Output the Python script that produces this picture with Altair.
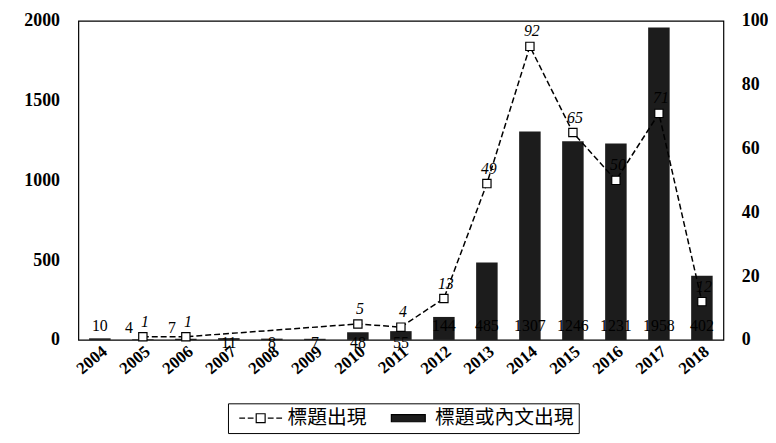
import altair as alt
import pandas as pd

years = [str(y) for y in range(2004, 2019)]
body_counts = [10, 4, 7, 11, 8, 7, 48, 55, 144, 485, 1307, 1246, 1231, 1958, 402]
title_counts = [None, 1, 1, None, None, None, 5, 4, 13, 49, 92, 65, 50, 71, 12]
series_names = ["標題出現", "標題或內文出現"]
left_ticks = [0, 500, 1000, 1500, 2000]
right_ticks = [0, 20, 40, 60, 80, 100]
below_axis_years = ["2007", "2008", "2009", "2010", "2011"]
shifted_label_years = ["2005", "2006"]

df = pd.DataFrame({"year": years, "body": body_counts, "title": title_counts})
df["below"] = df["year"].isin(below_axis_years)
df["shifted"] = df["year"].isin(shifted_label_years)
legend_df = pd.DataFrame({"series": series_names})

SERIF = "Liberation Serif"
CJK = "Noto Sans CJK TC"
BAR = "#1c1c1c"

x_enc = alt.X(
    "year:N",
    sort=years,
    scale=alt.Scale(paddingInner=0.5, paddingOuter=0.25),
    axis=alt.Axis(
        title=None, labelAngle=-40, labelAlign="right", labelBaseline="top",
        labelFont=SERIF, labelFontSize=17, labelFontWeight="bold",
        labelColor="black", ticks=False, domain=False, labelPadding=3,
    ),
)

left_scale = alt.Scale(domain=[0, 2000])
right_scale = alt.Scale(domain=[0, 100])

bars = alt.Chart(df).mark_bar(color=BAR).encode(
    x=x_enc,
    y=alt.Y("body:Q", scale=left_scale, axis=alt.Axis(
        title=None, values=left_ticks, format="d", ticks=False, domain=False, grid=False,
        labelFont=SERIF, labelFontSize=18, labelFontWeight="bold",
        labelColor="black", labelPadding=19)),
)

bar_labels_up = alt.Chart(df).transform_filter("!datum.below && !datum.shifted").mark_text(
    font=SERIF, fontSize=16, color="black", dy=-14
).encode(x=x_enc, y=alt.datum(0, scale=left_scale), text="body:Q")

bar_labels_shift = alt.Chart(df).transform_filter("datum.shifted").mark_text(
    font=SERIF, fontSize=16, color="black", dy=-12, dx=-14
).encode(x=x_enc, y=alt.datum(0, scale=left_scale), text="body:Q")

bar_labels_down = alt.Chart(df).transform_filter("datum.below").mark_text(
    font=SERIF, fontSize=16, color="black", dy=3
).encode(x=x_enc, y=alt.datum(0, scale=left_scale), text="body:Q")

legend_props = dict(
    title=None, orient="none", direction="horizontal",
    legendX=151, legendY=386, strokeColor="black", padding=5,
    labelFont=CJK, labelFontSize=20, labelColor="black",
    symbolSize=81, symbolOffset=18, labelOffset=17, columnPadding=14,
    symbolStrokeColor="black", symbolStrokeWidth=1.2,
)

legend_layer = alt.Chart(legend_df).transform_filter("false").mark_point(
    strokeWidth=1.2, opacity=1
).encode(
    shape=alt.Shape("series:N", scale=alt.Scale(
        domain=series_names,
        range=["M-4.8,0H-3.5M-2.9,0H-1.6M-1,-1H1V1H-1ZM1.6,0H2.9M3.5,0H4.8",
               "M-3.8,-0.8H3.8V0.8H-3.8Z"]), legend=alt.Legend(**legend_props)),
    fill=alt.Fill("series:N", scale=alt.Scale(domain=series_names, range=["white", BAR]),
                  legend=alt.Legend(**legend_props)),
    stroke=alt.Stroke("series:N", scale=alt.Scale(domain=series_names, range=["black", "black"]),
                      legend=alt.Legend(**legend_props)),
)

left_group = alt.layer(bars, bar_labels_up, bar_labels_shift, bar_labels_down, legend_layer)

line_base = alt.Chart(df).transform_filter("isValid(datum.title)")
line = line_base.mark_line(color="black", strokeDash=[6, 3], strokeWidth=1.5).encode(
    x=x_enc,
    y=alt.Y("title:Q", scale=right_scale, axis=alt.Axis(
        title=None, values=right_ticks, ticks=False, domain=False, grid=False,
        orient="right", labelFont=SERIF, labelFontSize=18, labelFontWeight="bold",
        labelColor="black", labelPadding=18)),
)
points = line_base.mark_point(shape="square", filled=True, fill="white", stroke="black",
                              strokeWidth=1.2, size=70, opacity=1).encode(
    x=x_enc, y=alt.Y("title:Q", scale=right_scale))
line_labels = line_base.mark_text(font=SERIF, fontSize=16, fontStyle="italic",
                                  color="black", dy=-15, dx=2).encode(
    x=x_enc, y=alt.Y("title:Q", scale=right_scale), text="title:Q")

right_group = alt.layer(line, points, line_labels)

chart = alt.layer(left_group, right_group).resolve_scale(y="independent").properties(
    width=651, height=322, background="white",
    padding={"left": 16, "top": 2, "right": 0, "bottom": 0},
).configure_view(stroke="black", strokeWidth=1.2)

chart.save("out.html", embed_options={"renderer": "svg", "actions": False})
